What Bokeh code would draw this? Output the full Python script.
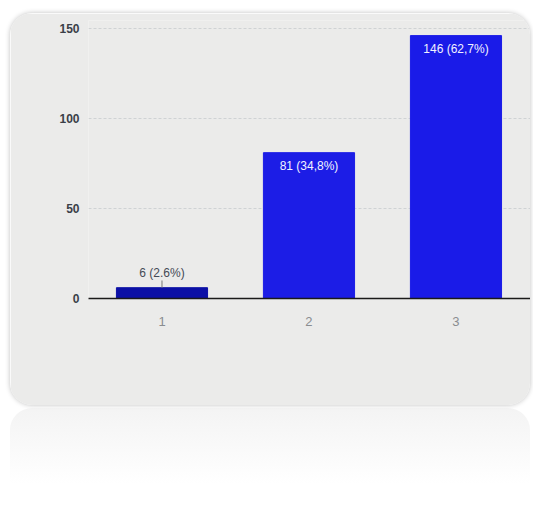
from bokeh.plotting import figure
from bokeh.models import Range1d, FixedTicker, ColumnDataSource, Div
from bokeh.layouts import column
from bokeh.core.properties import value
from bokeh.embed import file_html
from bokeh.resources import INLINE

# data
categories = [1, 2, 3]
tick_labels = ["1", "2", "3"]
counts = [6, 81, 146]
labels = ["6 (2.6%)", "81 (34,8%)", "146 (62,7%)"]
bar_colors = ["#0c10a6", "#1c1de6", "#1a1be8"]
y_ticks = [0, 50, 100, 150]

FONT = "Liberation Sans"
CARD = "#ebebea"

p = figure(width=520, height=392, output_backend="svg", toolbar_location=None,
           x_range=Range1d(0.5, 3.507), y_range=Range1d(0, 154.4),
           min_border_left=78, min_border_right=0, min_border_top=7, min_border_bottom=107)
p.margin = (13, 3, 0, 10)
p.styles = {"border-radius": "22px", "overflow": "hidden",
            "box-shadow": "0 0 5px rgba(0,0,0,0.25)"}
p.background_fill_color = CARD
p.border_fill_color = CARD
p.outline_line_color = None

src = ColumnDataSource(dict(x=categories, top=counts, color=bar_colors, label=labels))
p.vbar(x="x", top="top", width=0.62, color="color", source=src)

# labels: outside (above) for short bars, inside (white) for tall bars
out = [i for i, c in enumerate(counts) if c < 20]
ins = [i for i, c in enumerate(counts) if c >= 20]
if out:
    xo = [categories[i] for i in out]
    yo = [counts[i] for i in out]
    p.segment(x0=xo, y0=yo, x1=xo, y1=[v + 4 for v in yo], line_color="#777777", line_width=1)
    p.text(x=xo, y=yo, text=[labels[i] for i in out], y_offset=-8,
           text_align="center", text_baseline="bottom", text_color="#444a55",
           text_font=value(FONT), text_font_size="12px")
if ins:
    p.text(x=[categories[i] for i in ins], y=[counts[i] for i in ins],
           text=[labels[i] for i in ins], y_offset=6,
           text_align="center", text_baseline="top", text_color="#f2f2ff",
           text_font=value(FONT), text_font_size="12px")

p.xgrid.grid_line_color = None
p.ygrid.ticker = FixedTicker(ticks=y_ticks[1:])
p.ygrid.grid_line_color = "#cfd2d4"
p.ygrid.grid_line_dash = "3 2"
p.ygrid.grid_line_width = 1

p.yaxis.ticker = FixedTicker(ticks=y_ticks)
p.yaxis.axis_line_color = None
p.yaxis.major_tick_line_color = None
p.yaxis.minor_tick_line_color = None
p.yaxis.major_label_standoff = 3
p.yaxis.major_label_text_font = FONT
p.yaxis.major_label_text_font_size = "12px"
p.yaxis.major_label_text_font_style = "bold"
p.yaxis.major_label_text_color = "#3a3f48"

p.xaxis.ticker = FixedTicker(ticks=categories)
p.xaxis.major_label_overrides = {c: t for c, t in zip(categories, tick_labels)}
p.xaxis.axis_line_color = "#1a1a1a"
p.xaxis.axis_line_width = 1.5
p.xaxis.major_tick_line_color = None
p.xaxis.minor_tick_line_color = None
p.xaxis.major_label_standoff = 12
p.xaxis.major_label_text_font = FONT
p.xaxis.major_label_text_font_size = "13px"
p.xaxis.major_label_text_color = "#8a8d90"

reflection = Div(text="", width=520, height=76, margin=(3, 3, 0, 10),
                 styles={"background": "linear-gradient(rgba(236,236,236,0.6), rgba(255,255,255,0))",
                         "border-radius": "22px 22px 0 0"})

layout = column(p, reflection, spacing=0)
open("out.html", "w").write(file_html(layout, INLINE))
